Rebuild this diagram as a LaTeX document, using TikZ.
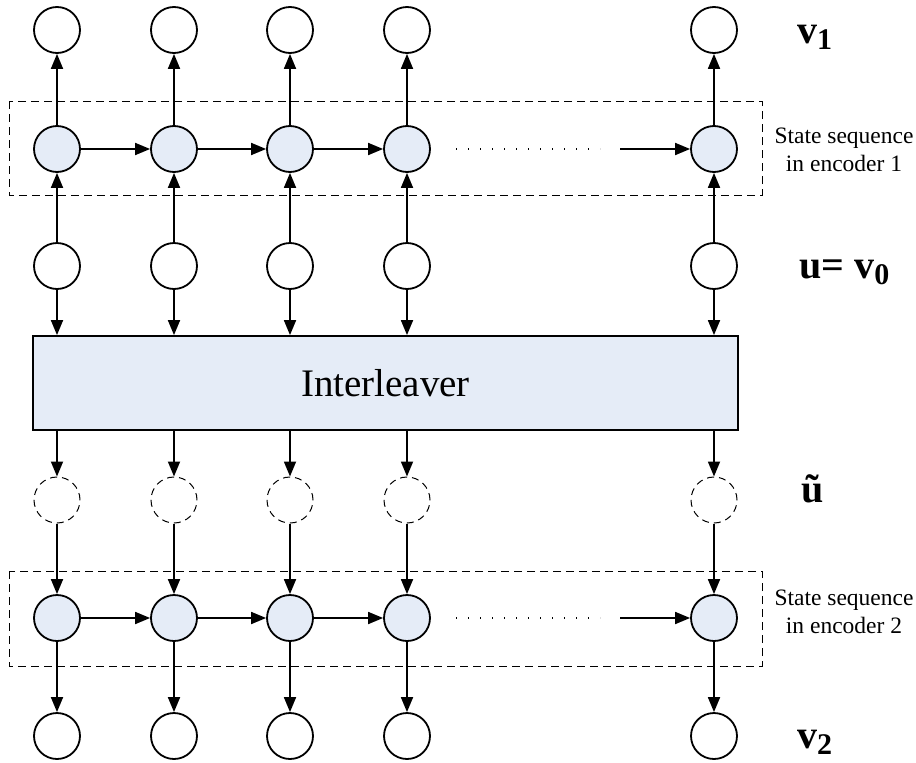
\documentclass[tikz,border=0pt]{standalone}
\usepackage{fontspec}
\setmainfont{Liberation Serif}
\usetikzlibrary{arrows.meta}
\definecolor{nodefill}{RGB}{229,236,247}
\newcommand{\symsub}[1]{\raisebox{-6pt}{\fontsize{30}{30}\selectfont #1}}

\begin{document}
\begin{tikzpicture}[x=1pt, y=-1pt, line width=1.8pt,
    >={Triangle[length=15pt,width=12pt]},
    bitnode/.style={circle, draw, minimum size=46pt, inner sep=0pt},
    statenode/.style={bitnode, fill=nodefill},
    ghostnode/.style={bitnode, line width=1pt, dash pattern=on 7pt off 5pt},
    seqbox/.style={line width=1pt, dash pattern=on 8pt off 5pt},
    seqdots/.style={line width=1.3pt, dash pattern=on 1.3pt off 10.7pt},
    seqtext/.style={align=center, font=\fontsize{23.5}{28}\selectfont},
    sym/.style={anchor=base west, font=\fontsize{40}{46}\selectfont\bfseries}]
    \useasboundingbox (0,0) rectangle (916,763);
    % Columns of bits and states
    \foreach \i/\x in {1/57,2/174,3/290,4/407,5/714} {
        \node[bitnode] (v1-\i) at (\x,30) {};
        \node[statenode] (s1-\i) at (\x,149) {};
        \node[bitnode] (u-\i) at (\x,266) {};
        \node[ghostnode] (ut-\i) at (\x,500) {};
        \node[statenode] (s2-\i) at (\x,618) {};
        \node[bitnode] (v2-\i) at (\x,736) {};
    }
    % Interleaver
    \node[draw, fill=nodefill, minimum width=705pt, minimum height=94pt,
        font=\fontsize{39}{47}\selectfont] (inter) at (385.5,383) {Interleaver};
    % Vertical connections
    \foreach \i in {1,...,5} {
        \draw[->] (s1-\i) -- (v1-\i);
        \draw[->] (u-\i) -- (s1-\i);
        \draw[->] (u-\i) -- (u-\i |- inter.north);
        \draw[->] (ut-\i |- inter.south) -- (ut-\i);
        \draw[->] (ut-\i) -- (s2-\i);
        \draw[->] (s2-\i) -- (v2-\i);
    }
    % State transitions
    \foreach \a/\b in {1/2,2/3,3/4} {
        \draw[->] (s1-\a) -- (s1-\b);
        \draw[->] (s2-\a) -- (s2-\b);
    }
    \coordinate (gap1) at (620,149);
    \coordinate (gap2) at (620,618);
    \draw[->] (gap1) -- (s1-5);
    \draw[->] (gap2) -- (s2-5);
    \draw[seqdots] (456,149) -- (600,149);
    \draw[seqdots] (456,618) -- (600,618);
    % Encoder state sequences
    \draw[seqbox] (9,101) rectangle (762,195);
    \draw[seqbox] (9,571) rectangle (762,666);
    \node[seqtext] (enc1) at (844,150) {State sequence\\in encoder 1};
    \node[seqtext] (enc2) at (844,612) {State sequence\\in encoder 2};
    % Sequence names
    \node[sym] (lv1) at (793,43) {v\symsub{1}};
    \node[sym] (lu) at (795,278) {u= v\symsub{0}};
    \node[sym] (lut) at (797,502) {\~{u}};
    \node[sym] (lv2) at (793,748) {v\symsub{2}};
\end{tikzpicture}
\end{document}
